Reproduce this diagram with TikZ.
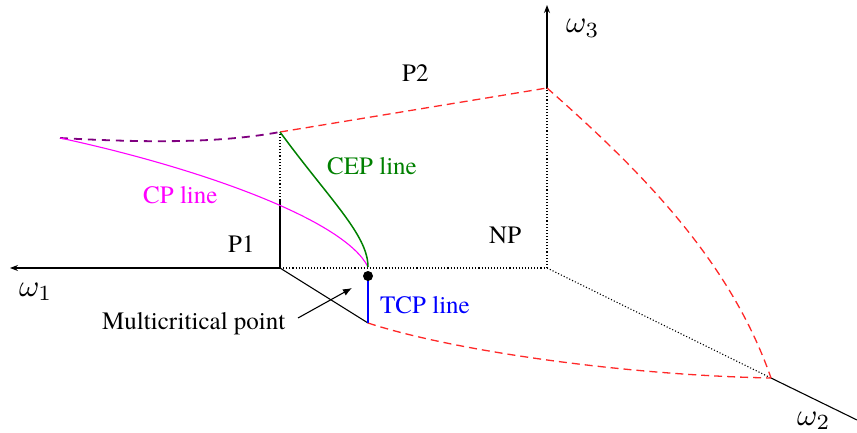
\documentclass[tikz,border=0pt]{standalone}
\usepackage{graphicx}
\usepackage{fontspec}
\newfontfamily\txtfont{texgyretermes-regular.otf}
\usetikzlibrary{arrows.meta}
\definecolor{mag}{RGB}{255,0,255}
\definecolor{purp}{RGB}{128,0,128}
\definecolor{dgreen}{RGB}{0,128,0}
\definecolor{rd}{RGB}{255,40,40}
\tikzset{
  axis/.style={line width=1.1pt, black},
  hidden/.style={line width=1.1pt, black, dotted},
  reddash/.style={line width=1.3pt, rd, dash pattern=on 8pt off 5pt},
  purpdash/.style={line width=1.8pt, purp, dash pattern=on 8pt off 6pt},
  lbl/.style={inner sep=0pt, anchor=base west, font=\txtfont\fontsize{25}{30}\selectfont},
  omlbl/.style={inner sep=0pt, anchor=base west},
}
\begin{document}
\begin{tikzpicture}[x=1pt,y=-1pt]
\useasboundingbox (0,0) rectangle (857,433);
% key points
\coordinate (O) at (280,268);
\coordinate (Top1) at (280,132);
\coordinate (Mid1) at (280,200);
\coordinate (O3) at (547,268);
\coordinate (P3) at (547,88);
\coordinate (Ax3) at (547,5);
\coordinate (Ax1) at (10,268);
\coordinate (P2c) at (771,378);
\coordinate (Ax2) at (857,420);
\coordinate (Low) at (368,323);
\coordinate (MC) at (368,276);
\coordinate (MCtop) at (368,267);
\coordinate (Left) at (60,138);
% axes
\draw[axis,-{Stealth[length=8pt,width=6pt]}] (O) -- (Ax1);
\draw[axis,-{Stealth[length=8pt,width=6pt]}] (P3) -- (Ax3);
\draw[axis] (P2c) -- (Ax2);
\draw[axis] (O) -- (Low);
\draw[axis] (O) -- (Mid1);
% hidden lines
\draw[hidden] (Mid1) -- (Top1);
\draw[hidden] (O) -- (O3);
\draw[hidden] (O3) -- (P3);
\draw[hidden] (O3) -- (P2c);
% red dashed
\draw[reddash] (Top1) -- (P3);
\draw[reddash] (P3) .. controls (640,170) and (730,260) .. (P2c);
\draw[reddash] (Low) .. controls (450,350) and (620,375) .. (P2c);
% purple dashed
\draw[purpdash] (Left) .. controls (150,143) and (220,143) .. (Top1);
% CP line
\draw[mag, line width=1.1pt] (Left) .. controls (200,168) and (345,220) .. (MCtop);
% CEP line
\draw[dgreen, line width=1.5pt] (Top1) .. controls (330,200) and (368,235) .. (MCtop);
% TCP line
\draw[blue, line width=1.3pt] (368,280) -- (Low);
% multicritical point
\fill[black] (MC) circle (5pt);
% labels
\node[lbl] (p2) at (402,82) {P2};
\node[lbl, text=dgreen] (cep) at (327,175) {CEP line};
\node[lbl, text=mag] (cp) at (143,204) {CP line};
\node[lbl] (p1) at (228,252) {P1};
\node[lbl] (np) at (489,243) {NP};
\node[lbl, text=blue] (tcp) at (380,313) {TCP line};
\node[lbl] (mcp) at (102,329) {Multicritical point};
\node[omlbl] (w1) at (19,296) {\scalebox{3.1}{$\omega_1$}};
\node[omlbl] (w3) at (566,33) {\scalebox{3.1}{$\omega_3$}};
\node[omlbl] (w2) at (797,425) {\scalebox{3.1}{$\omega_2$}};
% arrow to multicritical point
\coordinate (arrS) at (298,318);
\coordinate (arrE) at (352,288);
\draw[line width=1.1pt, -{Latex[length=9pt,width=7pt]}] (arrS) -- (arrE);
\end{tikzpicture}
\end{document}
